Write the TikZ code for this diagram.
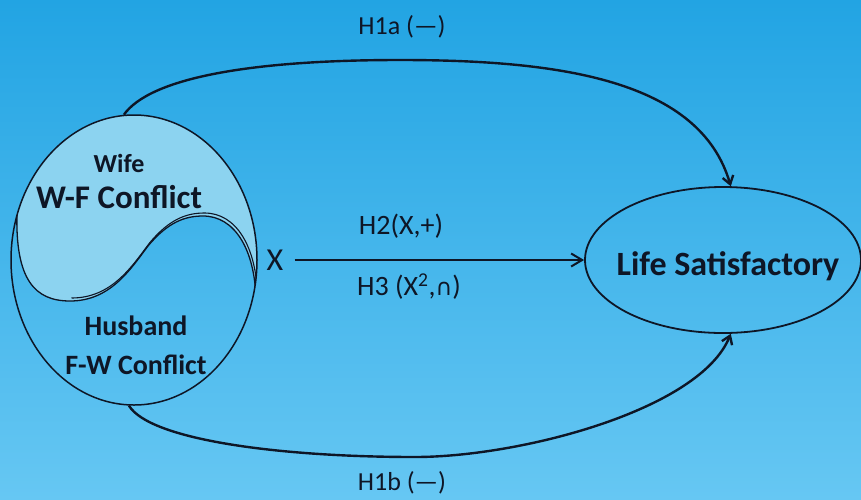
\documentclass[tikz,border=0pt]{standalone}
\usepackage{fontspec}
\setmainfont{Carlito}
\newfontfamily\symfont{DejaVu Sans}
\usetikzlibrary{positioning, arrows.meta, shapes.geometric}
\definecolor{bgtop}{RGB}{34,164,227}
\definecolor{bgbot}{RGB}{102,199,243}
\definecolor{wifefill}{RGB}{140,211,240}
\definecolor{ink}{RGB}{14,22,38}
\tikzset{
  oval/.style={draw=ink, ellipse, line width=1.5pt, inner sep=0pt},
  role/.style={font=\bfseries\fontsize{28}{30}\selectfont, text=ink, inner sep=0pt},
  conflict/.style={font=\bfseries\fontsize{33}{35}\selectfont, text=ink, inner sep=0pt},
  hyp/.style={font=\fontsize{26}{28}\selectfont, text=ink, inner sep=0pt},
  link/.style={draw=ink, line width=2.4pt, -{Straight Barb[length=8pt,width=11pt]}},
}

\begin{document}
\begin{tikzpicture}[x=1pt, y=-1pt]
  \useasboundingbox (0,0) rectangle (861,499);
  \shade[top color=bgtop, bottom color=bgbot] (0,0) rectangle (861,499);
  % yin-yang split of the couple
  \begin{scope}
    \clip (134,260) ellipse [x radius=123pt, y radius=145pt];
    \fill[wifefill] (17,212) .. controls (15,280) and (35,301) .. (70,301)
      .. controls (110,301) and (130,270) .. (148,246)
      .. controls (168,222) and (185,216) .. (203,216)
      .. controls (235,216) and (255,250) .. (256,300)
      -- (270,300) -- (270,100) -- (0,100) -- (0,212) -- cycle;
    \draw[ink, line width=1.3pt] (17,212) .. controls (15,280) and (35,301) .. (70,301)
      .. controls (110,301) and (130,270) .. (148,246)
      .. controls (168,222) and (185,216) .. (203,216)
      .. controls (235,216) and (255,250) .. (256,300);
    \draw[ink, line width=1.1pt, shift={(1.5,-3)}] (70,301)
      .. controls (110,301) and (130,270) .. (148,246)
      .. controls (168,222) and (185,216) .. (203,216)
      .. controls (235,216) and (255,250) .. (256,300);
  \end{scope}
  \node[oval, minimum width=246pt, minimum height=290pt] (pair) at (134,260) {};
  \node[role, font=\bfseries\fontsize{26}{28}\selectfont] (wife) at (119,163) {Wife};
  \node[conflict, below=13pt of wife] (wf) {W-F Conflict};
  \node[role] (husb) at (136,326) {Husband};
  \node[role, below=19pt of husb] (fw) {F-W Conflict};

  \node[oval, line width=1.8pt, minimum width=276pt, minimum height=146pt] (life) at (723,260) {};
  \node[font=\bfseries\fontsize{34}{36}\selectfont, text=ink, inner sep=0pt] (lifetxt) at (728,266) {Life Satisfactory};

  % direct and interaction paths
  \node[hyp, font=\fontsize{32}{34}\selectfont] (x) at (275,260) {X};
  \draw[draw=ink, line width=2pt, -{Straight Barb[length=11pt,width=13pt]}, shorten <=11pt] (x) -- (life);
  \node[hyp, font=\fontsize{28}{30}\selectfont] (h2) at (401,226) {H2(X,+)};
  \node[hyp, font=\fontsize{28}{30}\selectfont] (h3) at (409,287) {H3 (X\textsuperscript{2},{\symfont\fontsize{23}{25}\selectfont ∩})};

  \draw[link] (pair.94) .. controls (150,78) and (250,60) .. (400,60)
    .. controls (560,60) and (700,80) .. (life.84);
  \draw[link] (pair.268) .. controls (150,440) and (280,457) .. (415,457)
    .. controls (520,457) and (700,410) .. (life.276);
  \node[hyp] (h1a) at (402,27) {H1a (\textemdash)};
  \node[hyp] (h1b) at (402,483) {H1b (\textemdash)};
\end{tikzpicture}
\end{document}
